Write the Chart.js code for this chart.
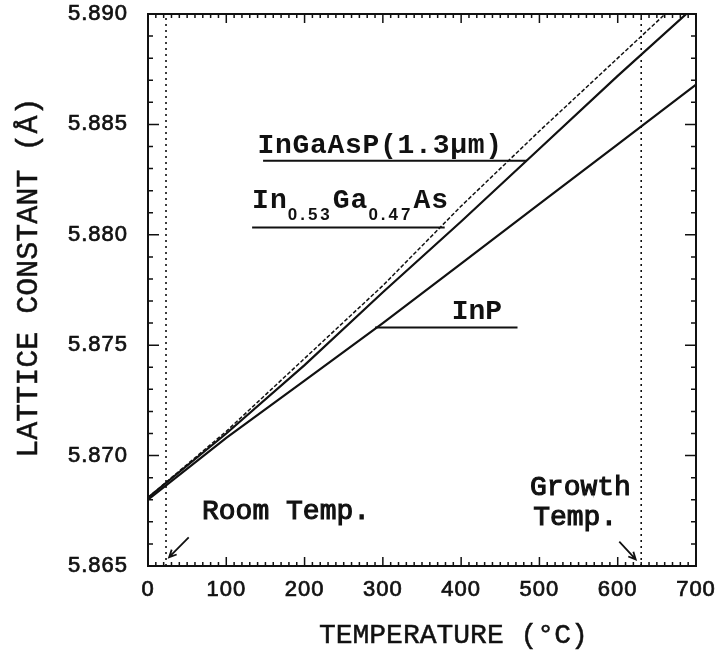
<!DOCTYPE html>
<html>
<head>
<meta charset="utf-8">
<script src="https://cdn.jsdelivr.net/npm/chart.js@4.4.0/dist/chart.umd.min.js"></script>
<style>
  body { margin: 0; background: #fff; }
  #wrap { width: 719px; height: 652px; }
</style>
</head>
<body>
<div id="wrap"><canvas id="chart" width="719" height="652"></canvas></div>
<script>
// ========== Data ==========
const temps = [0, 100, 200, 300, 400, 500, 600, 700];                                   // °C
const inpLattice     = [5.8680, 5.8708, 5.8734, 5.8760, 5.8787, 5.8814, 5.8841, 5.8868]; // InP
const ingaasLattice  = [5.8681, 5.8711, 5.8744, 5.8777, 5.8813, 5.8847, 5.8880, 5.8913]; // In0.53Ga0.47As
const ingaaspLattice = [5.8681, 5.8710, 5.8741, 5.8774, 5.8806, 5.8839, 5.8872, 5.8904]; // InGaAsP(1.3um)

const roomTemp = 23;
const growthTemp = 630;

const xTicks = [0, 100, 200, 300, 400, 500, 600, 700];
const yTicks = [5.865, 5.870, 5.875, 5.880, 5.885, 5.890];

// ========== Style ==========
const INK = '#111';
const MONO = '"Liberation Mono", "DejaVu Sans Mono", monospace';
const SANS = '"Liberation Sans", Arial, sans-serif';

const pts = (xs, ys) => xs.map((t, i) => ({ x: t, y: ys[i] }));
const vline = t => [{ x: t, y: yTicks[0] }, { x: t, y: yTicks[yTicks.length - 1] }];

// fill + thin stroke gives a medium weight the fonts don't have
function heavyText(ctx, s, x, y, w) {
  ctx.lineWidth = w;
  ctx.strokeText(s, x, y);
  ctx.fillText(s, x, y);
}

// ========== Annotations (drawn in data units through the scales) ==========
function drawNotes(chart) {
  const { ctx, chartArea: a, scales: { x, y } } = chart;
  const X = v => x.getPixelForValue(v);
  const Y = v => y.getPixelForValue(v);

  ctx.save();
  ctx.fillStyle = INK;
  ctx.strokeStyle = INK;
  ctx.letterSpacing = '0px';

  // frame
  ctx.lineWidth = 2;
  ctx.strokeRect(a.left, a.top, a.right - a.left, a.bottom - a.top);

  // inward ticks on all four sides
  ctx.lineWidth = 1.5;
  ctx.beginPath();
  for (let t = 0; t <= 700; t += 10) {
    const px = X(t), len = t % 100 === 0 ? 9 : 4;
    ctx.moveTo(px, a.bottom); ctx.lineTo(px, a.bottom - len);
    ctx.moveTo(px, a.top); ctx.lineTo(px, a.top + len);
  }
  for (let i = 0; i <= 25; i++) {
    const py = Y(5.865 + i * 0.001), len = i % 5 === 0 ? 11 : 5;
    ctx.moveTo(a.left, py); ctx.lineTo(a.left + len, py);
    ctx.moveTo(a.right, py); ctx.lineTo(a.right - len, py);
  }
  ctx.stroke();

  // curve labels with leader lines
  ctx.font = 'bold 28px ' + MONO;
  ctx.textAlign = 'left';
  ctx.textBaseline = 'alphabetic';
  ctx.letterSpacing = '0.7px';
  ctx.fillText('InGaAsP(1.3μm)', X(140), Y(5.8837));
  ctx.letterSpacing = '0px';

  let cx = X(133);
  const by = Y(5.8812);
  const part = (s, font, dy, sp) => {
    ctx.font = font;
    ctx.letterSpacing = sp;
    ctx.fillText(s, cx, by + dy);
    cx += ctx.measureText(s).width;
  };
  part('In', 'bold 28px ' + MONO, 0, '1px');
  part('0.53', 'bold 17px ' + SANS, 12, '3px');
  part('Ga', 'bold 28px ' + MONO, 0, '1px');
  part('0.47', 'bold 17px ' + SANS, 12, '3px');
  part('As', 'bold 28px ' + MONO, 0, '1px');
  ctx.letterSpacing = '0px';

  ctx.font = 'bold 28px ' + MONO;
  ctx.fillText('InP', X(388), Y(5.8762));

  ctx.lineWidth = 2;
  ctx.beginPath();
  ctx.moveTo(X(147), Y(5.88335)); ctx.lineTo(X(484), Y(5.88335));
  ctx.moveTo(X(133), Y(5.88033)); ctx.lineTo(X(379), Y(5.88033));
  ctx.moveTo(X(290), Y(5.8758)); ctx.lineTo(X(472), Y(5.8758));
  ctx.stroke();

  // temperature notes and arrows
  ctx.font = '28px ' + MONO;
  heavyText(ctx, 'Room Temp.', X(69), Y(5.86713), 1.1);
  heavyText(ctx, 'Growth', X(488), Y(5.86821), 1.1);
  heavyText(ctx, 'Temp.', X(492), Y(5.86685), 1.1);

  const arrow = (t0, v0, t1, v1) => {
    const x0 = X(t0), y0 = Y(v0), x1 = X(t1), y1 = Y(v1);
    const ang = Math.atan2(y1 - y0, x1 - x0), h = 8;
    ctx.beginPath();
    ctx.moveTo(x0, y0); ctx.lineTo(x1, y1);
    ctx.moveTo(x1 - h * Math.cos(ang - 0.45), y1 - h * Math.sin(ang - 0.45));
    ctx.lineTo(x1, y1);
    ctx.lineTo(x1 - h * Math.cos(ang + 0.45), y1 - h * Math.sin(ang + 0.45));
    ctx.stroke();
  };
  ctx.lineWidth = 1.8;
  arrow(52, 5.8663, 27, 5.8654);
  arrow(602, 5.8661, 623, 5.8653);

  // axis titles
  ctx.font = '28px ' + MONO;
  ctx.textAlign = 'center';
  heavyText(ctx, 'TEMPERATURE (°C)', X(390), a.bottom + 77, 0.5);

  ctx.font = '30px ' + MONO;
  ctx.translate(29, Y(5.87806));
  ctx.rotate(-Math.PI / 2);
  ctx.textBaseline = 'middle';
  heavyText(ctx, 'LATTICE CONSTANT (Å)', 0, 0, 0.5);
  ctx.restore();
}

const notesPlugin = {
  id: 'notes',
  beforeDraw(chart) { chart.ctx.letterSpacing = '1px'; },
  afterDatasetsDraw(chart) { drawNotes(chart); }
};

const tickFont = { family: SANS, size: 22 };

// ========== Chart ==========
const ctx = document.getElementById('chart').getContext('2d');
new Chart(ctx, {
  type: 'line',
  data: {
    datasets: [
      { label: 'Room Temp.', data: vline(roomTemp), borderColor: INK, borderWidth: 1.6, borderDash: [2, 4], pointRadius: 0 },
      { label: 'Growth Temp.', data: vline(growthTemp), borderColor: INK, borderWidth: 1.6, borderDash: [2, 4], pointRadius: 0 },
      { label: 'InP', data: pts(temps, inpLattice), borderColor: INK, borderWidth: 2.2, pointRadius: 0 },
      { label: 'InGaAsP(1.3μm)', data: pts(temps, ingaaspLattice), borderColor: INK, borderWidth: 2.2, pointRadius: 0 },
      { label: 'In0.53Ga0.47As', data: pts(temps, ingaasLattice), borderColor: INK, borderWidth: 1.5, borderDash: [4, 2], pointRadius: 0 }
    ]
  },
  options: {
    responsive: false,
    animation: false,
    events: [],
    layout: { padding: { left: 0, top: 14, right: 23, bottom: 0 } },
    plugins: { legend: { display: false }, tooltip: { enabled: false } },
    scales: {
      x: {
        type: 'linear', min: 0, max: 700,
        afterBuildTicks: s => { s.ticks = xTicks.map(v => ({ value: v })); },
        afterFit: s => { s.height = 86; s.paddingLeft = 0; s.paddingRight = 0; },
        grid: { display: false, drawTicks: false },
        border: { display: false },
        ticks: { color: INK, font: tickFont, textStrokeColor: INK, textStrokeWidth: 0.7, padding: 11, maxRotation: 0, autoSkip: false }
      },
      y: {
        type: 'linear', min: 5.865, max: 5.890,
        afterBuildTicks: s => { s.ticks = yTicks.map(v => ({ value: v })); },
        afterFit: s => { s.width = 148; s.paddingTop = 0; s.paddingBottom = 0; },
        grid: { display: false, drawTicks: false },
        border: { display: false },
        ticks: { color: INK, font: tickFont, textStrokeColor: INK, textStrokeWidth: 0.7, padding: 20, callback: v => v.toFixed(3) }
      }
    }
  },
  plugins: [notesPlugin]
});
</script>
</body>
</html>
